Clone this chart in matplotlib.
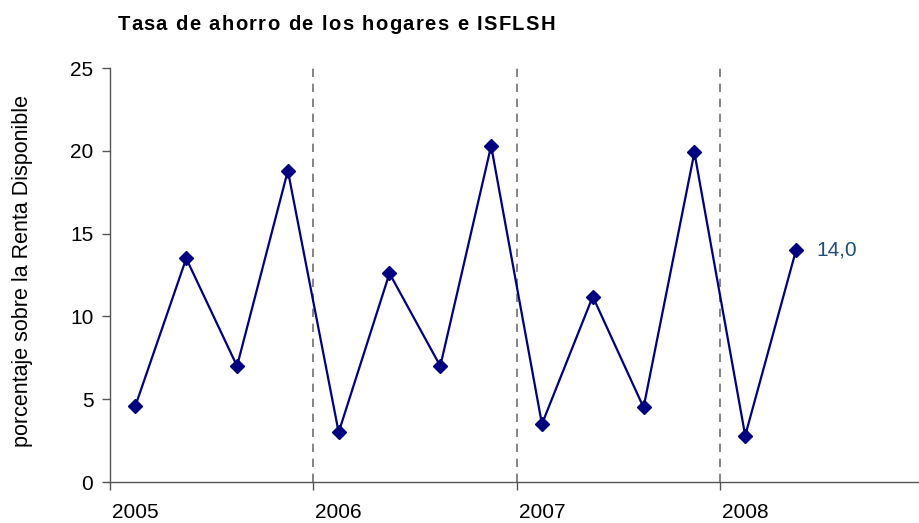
import matplotlib.pyplot as plt
import numpy as np

plt.rcParams['font.family'] = ['Liberation Sans', 'DejaVu Sans']

# Datos trimestrales (tasa de ahorro, % de la renta disponible)
years = ['2005', '2006', '2007', '2008']
quarters_per_year = 4
savings_rate = [4.6, 13.5, 7.0, 18.8,
                3.0, 12.6, 7.0, 20.3,
                3.5, 11.2, 4.5, 19.9,
                2.8, 14.0]
last_label = '14,0'
title = 'Tasa de ahorro de los hogares e ISFLSH'

x = np.arange(len(savings_rate))

W, H = 919, 523
fig = plt.figure(figsize=(W / 100, H / 100), dpi=100)
ax = fig.add_axes([110 / W, 1 - 482 / H, 1 - 110 / W, (482 - 68) / H])

# Líneas discontinuas de separación entre años
for i in range(1, len(years)):
    ax.axvline(i * quarters_per_year - 0.5, color='#707070', lw=1.2,
               ls=(0, (5, 4)), zorder=1)

ax.plot(x, savings_rate, color='#000080', lw=1.6, marker='D', ms=7.5,
        markerfacecolor='#000080', markeredgecolor='#000080', zorder=3)
ax.text(x[-1] + 0.4, savings_rate[-1], last_label, color='#1f4e79',
        fontsize=15, va='center', ha='left')

ax.set_xlim(-0.5, 15.42)
ax.set_ylim(0, 25)
ax.set_yticks([0, 5, 10, 15, 20, 25])

# Marcas en los límites de año, etiquetas en el primer trimestre
ax.set_xticks([i * quarters_per_year - 0.5 for i in range(len(years))])
ax.set_xticklabels([])
ax.set_xticks([i * quarters_per_year for i in range(len(years))], minor=True)
ax.set_xticklabels(years, minor=True)
ax.tick_params(axis='x', which='minor', length=0, pad=15, labelsize=15)
ax.tick_params(axis='x', which='major', length=6, color='#555555', width=1)
ax.tick_params(axis='y', length=6, color='#555555', width=1, labelsize=15, pad=6)

for s in ['top', 'right']:
    ax.spines[s].set_visible(False)
for s in ['left', 'bottom']:
    ax.spines[s].set_color('#555555')
    ax.spines[s].set_linewidth(1)

ax.set_ylabel('porcentaje sobre la Renta Disponible', fontsize=15.5)
ax.yaxis.set_label_coords(-0.0952, 0.51)

# Título con espaciado entre letras (como en el original)
renderer = fig.canvas.get_renderer()
tkw = dict(fontsize=14.5, fontweight='bold', va='baseline', ha='left')
probe = fig.text(0, 0, '|', **tkw)
bar_w = probe.get_window_extent(renderer).width
def prefix_width(s):
    probe.set_text(s + '|')
    return probe.get_window_extent(renderer).width - bar_w
natural = prefix_width(title)
spacing = (437 - natural) / (len(title) - 1)
x0, ybase = 118, 30
for i, ch in enumerate(title):
    if ch == ' ':
        continue
    xp = x0 + prefix_width(title[:i]) + i * spacing
    fig.text(xp / W, 1 - ybase / H, ch, **tkw)
probe.remove()

fig.savefig('out.png', dpi=100)
